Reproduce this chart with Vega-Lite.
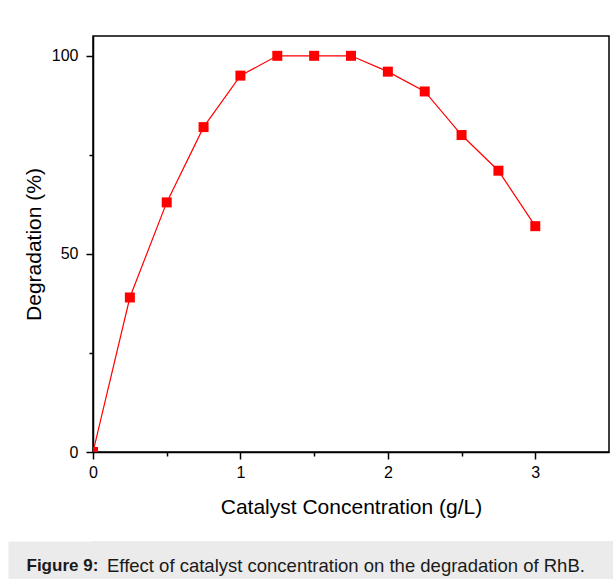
{
  "$schema": "https://vega.github.io/schema/vega-lite/v6.json",
  "background": "white",
  "padding": {"left": 8, "top": 35, "right": 0, "bottom": 0},
  "spacing": 23,
  "config": {
    "font": "Liberation Sans",
    "view": {"stroke": "black", "strokeWidth": 1.5}
  },
  "vconcat": [
    {
      "width": 516,
      "height": 416,
      "data": {
        "values": [
          {"conc": 0, "deg": 0},
          {"conc": 0.25, "deg": 39},
          {"conc": 0.5, "deg": 63},
          {"conc": 0.75, "deg": 82},
          {"conc": 1, "deg": 95},
          {"conc": 1.25, "deg": 100},
          {"conc": 1.5, "deg": 100},
          {"conc": 1.75, "deg": 100},
          {"conc": 2, "deg": 96},
          {"conc": 2.25, "deg": 91},
          {"conc": 2.5, "deg": 80},
          {"conc": 2.75, "deg": 71},
          {"conc": 3, "deg": 57}
        ]
      },
      "layer": [
        {
          "mark": {"type": "line", "color": "#ff0000", "strokeWidth": 1.2, "clip": true},
          "encoding": {
            "x": {
              "field": "conc", "type": "quantitative",
              "scale": {"domain": [0, 3.5], "nice": false, "zero": false},
              "axis": {
                "orient": "bottom", "values": [0, 1, 2, 3], "format": "d", "grid": false,
                "labelFlush": false,
                "tickSize": 7, "tickWidth": 1.5, "tickColor": "black",
                "domainColor": "black", "domainWidth": 1.5,
                "labelFontSize": 16, "labelColor": "black", "labelPadding": 5,
                "title": "Catalyst Concentration (g/L)", "titleFontSize": 21,
                "titleFontWeight": "normal", "titleColor": "black", "titlePadding": 16
              }
            },
            "y": {
              "field": "deg", "type": "quantitative",
              "scale": {"domain": [0, 105], "nice": false},
              "axis": {
                "orient": "left", "values": [0, 50, 100], "grid": false,
                "labelFlush": false,
                "tickSize": 7, "tickWidth": 1.5, "tickColor": "black",
                "domainColor": "black", "domainWidth": 1.5,
                "labelFontSize": 16, "labelColor": "black", "labelPadding": 8,
                "title": ["", "Degradation (%)"], "titleFontSize": 21, "titleLineHeight": 14,
                "titleFontWeight": "normal", "titleColor": "black", "titlePadding": 7
              }
            }
          }
        },
        {
          "mark": {"type": "square", "color": "#ff0000", "opacity": 1, "size": 100, "clip": true},
          "encoding": {
            "x": {
              "field": "conc", "type": "quantitative",
              "axis": {
                "orient": "bottom", "values": [0.5, 1.5, 2.5], "grid": false,
                "tickSize": 4, "tickWidth": 1.5, "tickColor": "black",
                "domain": false, "labels": false, "title": null
              }
            },
            "y": {
              "field": "deg", "type": "quantitative",
              "axis": {
                "orient": "left", "values": [25, 75], "grid": false,
                "tickSize": 4, "tickWidth": 1.5, "tickColor": "black",
                "domain": false, "labels": false, "title": null
              }
            }
          }
        }
      ],
      "resolve": {"axis": {"x": "independent", "y": "independent"}}
    },
    {
      "width": 520,
      "height": 38,
      "view": {"fill": "#ebebeb", "stroke": null},
      "data": {
        "values": [
          {"bold": "Figure 9:", "rest": "Effect of catalyst concentration on the degradation of RhB."}
        ]
      },
      "encoding": {
        "y": {
          "datum": 0, "type": "quantitative",
          "scale": {"domain": [-1, 1]},
          "axis": {
            "orient": "left", "grid": false, "ticks": false, "labels": false, "title": null,
            "domain": true, "domainColor": "#ebebeb", "domainWidth": 85, "domainCap": "butt",
            "offset": 42.5
          }
        }
      },
      "layer": [
        {
          "mark": {"type": "text", "align": "right", "dx": -254.7, "dy": 6, "fontSize": 17, "fontWeight": "bold", "color": "#1a1a1a", "clip": false},
          "encoding": {"text": {"field": "bold"}}
        },
        {
          "mark": {"type": "text", "align": "left", "dx": -246, "dy": 6, "fontSize": 18.5, "color": "#1a1a1a", "clip": false},
          "encoding": {"text": {"field": "rest"}}
        }
      ]
    }
  ]
}
